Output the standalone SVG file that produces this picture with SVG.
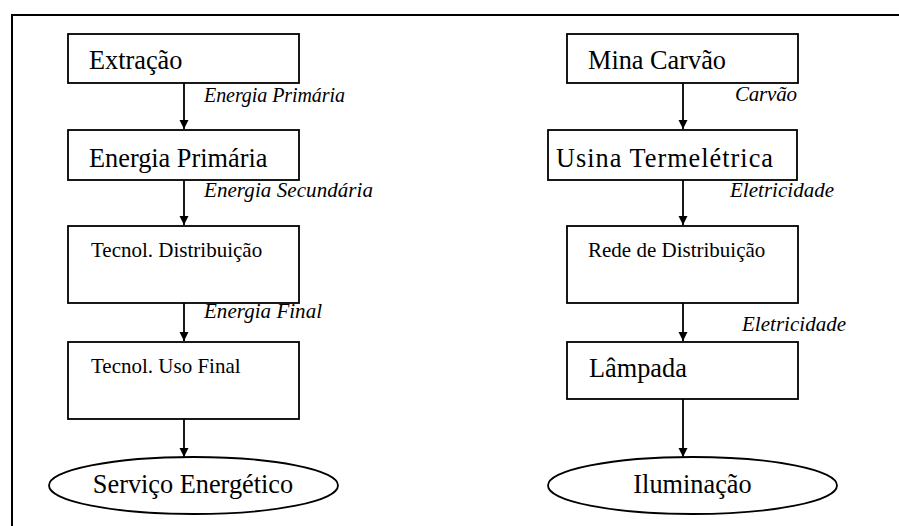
<svg xmlns="http://www.w3.org/2000/svg" width="899" height="526" viewBox="0 0 899 526">
<style>
.box{fill:#fff;stroke:#000;stroke-width:1.8}
.t{font-family:"Liberation Serif","Times New Roman",Times,serif;fill:#000}
.big{font-size:26.3px}
.mid{font-size:21px}
.lab{font-family:"Liberation Serif","Times New Roman",Times,serif;font-style:italic;font-size:21px;fill:#000}
.conn line{stroke:#000;stroke-width:1.8}
.frame{stroke:#000;stroke-width:2;fill:none}
</style>
<defs>
<marker id="ah" viewBox="0 0 10 10" refX="10" refY="5" markerWidth="9" markerHeight="10" markerUnits="userSpaceOnUse" orient="auto-start-reverse">
<path d="M0,0 L10,5 L0,10 Z" fill="#000"/>
</marker>
</defs>
<rect width="899" height="526" fill="#fff"/>
<path class="frame" d="M12,526 L12,15 L899,15"/>
<g id="n-extracao"><rect class="box" x="68" y="34" width="231" height="49"/><text class="t big" x="89" y="68.5">Extração</text></g>
<g id="n-energia-primaria"><rect class="box" x="68" y="130" width="231" height="50"/><text class="t big" x="89" y="166.5">Energia Primária</text></g>
<g id="n-tecnol-distribuicao"><rect class="box" x="68" y="226" width="231" height="77"/><text class="t mid" x="91" y="257">Tecnol. Distribuição</text></g>
<g id="n-tecnol-uso-final"><rect class="box" x="68" y="342" width="231" height="77"/><text class="t mid" x="91" y="373">Tecnol. Uso Final</text></g>
<g id="n-servico"><ellipse class="box" cx="193.5" cy="485.5" rx="144.5" ry="28.5"/><text class="t big" x="193" y="493" text-anchor="middle">Serviço Energético</text></g>
<g id="n-mina"><rect class="box" x="567" y="34" width="231" height="49"/><text class="t big" x="588" y="69">Mina Carvão</text></g>
<g id="n-usina"><rect class="box" x="548" y="130" width="249" height="50"/><text class="t big" x="556" y="167" textLength="217" lengthAdjust="spacing">Usina Termelétrica</text></g>
<g id="n-rede"><rect class="box" x="567" y="226" width="231" height="77"/><text class="t mid" x="588" y="257">Rede de Distribuição</text></g>
<g id="n-lampada"><rect class="box" x="567" y="342" width="231" height="57"/><text class="t big" x="589" y="377">Lâmpada</text></g>
<g id="n-iluminacao"><ellipse class="box" cx="692.5" cy="485.5" rx="144.5" ry="28.5"/><text class="t big" x="692.5" y="493" text-anchor="middle">Iluminação</text></g>
<g id="connectors" class="conn">
<line x1="184" y1="83" x2="184" y2="129" marker-end="url(#ah)"/>
<line x1="184" y1="180" x2="184" y2="225" marker-end="url(#ah)"/>
<line x1="184" y1="303" x2="184" y2="341" marker-end="url(#ah)"/>
<line x1="184" y1="419" x2="184" y2="457" marker-end="url(#ah)"/>
<line x1="683" y1="83" x2="683" y2="129" marker-end="url(#ah)"/>
<line x1="683" y1="180" x2="683" y2="225" marker-end="url(#ah)"/>
<line x1="683" y1="303" x2="683" y2="341" marker-end="url(#ah)"/>
<line x1="683" y1="399" x2="683" y2="457" marker-end="url(#ah)"/>
<text class="lab" x="204" y="102" style="font-size:20px" textLength="141" lengthAdjust="spacing">Energia Primária</text>
<text class="lab" x="204" y="197" textLength="169" lengthAdjust="spacing">Energia Secundária</text>
<text class="lab" x="204" y="318" textLength="118" lengthAdjust="spacing">Energia Final</text>
<text class="lab" x="735" y="100.5" textLength="62" lengthAdjust="spacing">Carvão</text>
<text class="lab" x="730" y="197" textLength="104" lengthAdjust="spacing">Eletricidade</text>
<text class="lab" x="742" y="331" textLength="104" lengthAdjust="spacing">Eletricidade</text>
</g>
</svg>
